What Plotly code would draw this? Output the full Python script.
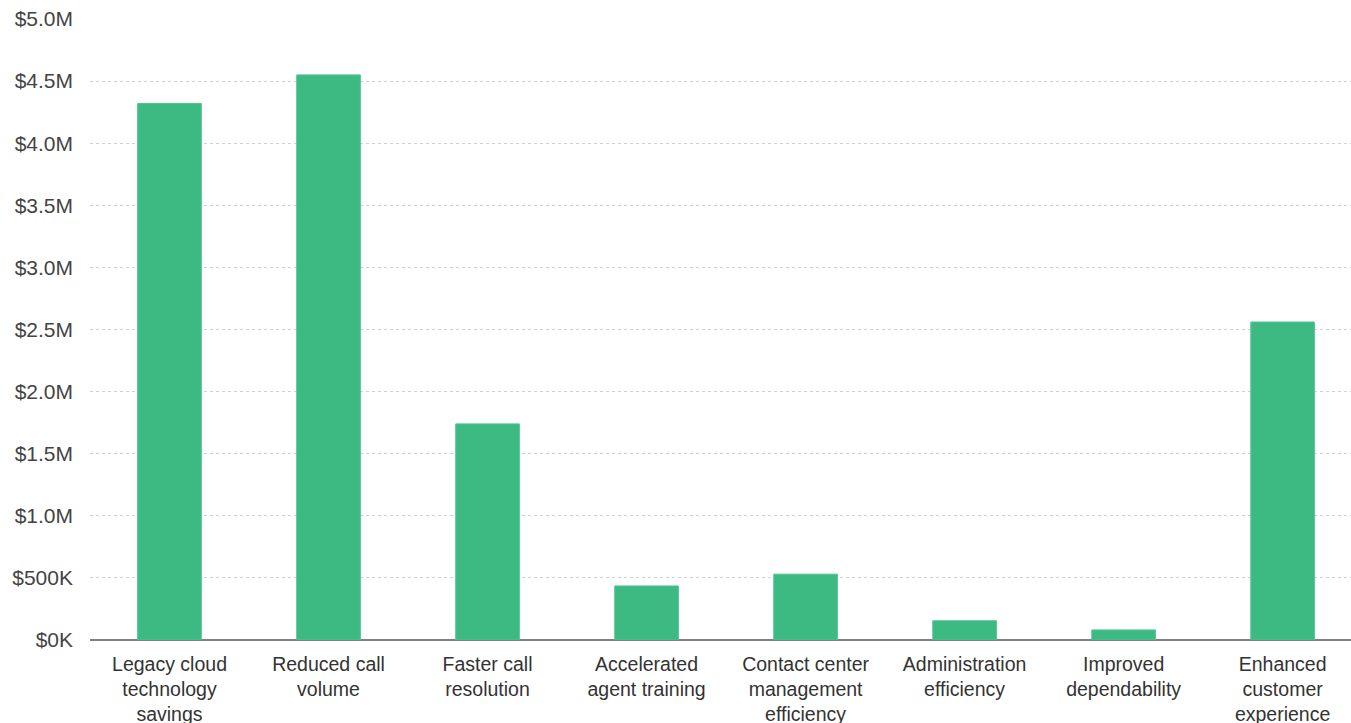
import plotly.graph_objects as go

# Benefit categories and their value in USD
categories = [
    "Legacy cloud<br>technology<br>savings",
    "Reduced call<br>volume",
    "Faster call<br>resolution",
    "Accelerated<br>agent training",
    "Contact center<br>management<br>efficiency",
    "Administration<br>efficiency",
    "Improved<br>dependability",
    "Enhanced<br>customer<br>experience",
]
values = [4320000, 4550000, 1740000, 435000, 530000, 155000, 81000, 2560000]

tick_vals = [0, 500000, 1000000, 1500000, 2000000, 2500000, 3000000, 3500000, 4000000, 4500000, 5000000]
tick_text = ["$0K", "$500K", "$1.0M", "$1.5M", "$2.0M", "$2.5M", "$3.0M", "$3.5M", "$4.0M", "$4.5M", "$5.0M"]

fig = go.Figure(
    go.Bar(
        x=list(range(len(categories))),
        y=values,
        marker=dict(color="#3DBA82", line=dict(color="#4CC48D", width=1)),
        hoverinfo="skip",
    )
)

fig.update_layout(
    width=1351,
    height=723,
    margin=dict(l=90, r=0, t=18, b=83),
    paper_bgcolor="white",
    plot_bgcolor="white",
    bargap=0.6,
    showlegend=False,
    font=dict(family="Liberation Sans, Arial, sans-serif", size=20, color="#333333"),
)

fig.update_xaxes(
    range=[-0.5, 7.43],
    tickvals=list(range(len(categories))),
    ticktext=categories,
    showgrid=False,
    showline=False,
    zeroline=False,
    tickfont=dict(size=19.5, color="#333333"),
    ticks="",
    ticklabelstandoff=10,
    automargin=False,
)

fig.update_yaxes(
    range=[0, 5008000],
    tickvals=tick_vals,
    ticktext=tick_text,
    showgrid=True,
    gridcolor="#D0D0D0",
    griddash="dot",
    gridwidth=1,
    zeroline=True,
    zerolinecolor="#808080",
    zerolinewidth=1.5,
    showline=False,
    tickfont=dict(size=21, color="#444444"),
    ticks="",
    ticklabelstandoff=16,
    automargin=False,
)

fig.write_html("out.html")
